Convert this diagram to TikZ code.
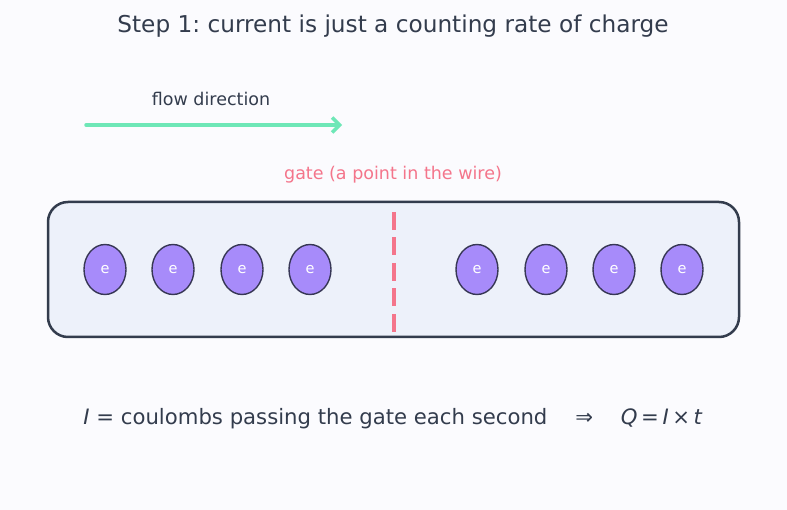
\documentclass[tikz,border=0pt]{standalone}
\usepackage{fontspec}
\setmainfont{DejaVu Sans}
\usetikzlibrary{arrows.meta,shapes.geometric}
\frenchspacing
\definecolor{bg}{RGB}{251,251,254}
\definecolor{ink}{RGB}{51,60,77}
\definecolor{mint}{RGB}{110,231,183}
\definecolor{gatec}{RGB}{244,117,139}
\definecolor{wirefill}{RGB}{237,241,250}
\definecolor{elec}{RGB}{167,139,250}
\definecolor{elecline}{RGB}{55,55,85}
\tikzset{
  txt/.style={text=ink, inner sep=0pt},
  electron/.style={ellipse, draw=elecline, line width=1.4pt, fill=elec, minimum width=42pt, minimum height=50pt, inner sep=0pt, text=white, font=\fontsize{14.5}{17}\selectfont},
}
\begin{document}
\begin{tikzpicture}[x=1pt,y=-1pt]
\fill[bg] (0,0) rectangle (787,510);
\useasboundingbox (0,0) rectangle (787,510);
\node[txt, font=\fontsize{23.2}{27}\selectfont] (title) at (393,26) {Step 1: current is just a counting rate of charge};
\node[txt, font=\fontsize{17.5}{21}\selectfont] (flowlbl) at (211,98.5) {flow direction};
\coordinate (fa) at (86,125);
\coordinate (fb) at (342,125);
\draw[mint, line width=3.5pt, line cap=round, -{Straight Barb[length=7.5pt,width=15pt,line width=3.5pt]}] (fa) -- (fb);
\node[inner sep=0pt, text=gatec, font=\fontsize{17.5}{21}\selectfont] (gatelbl) at (393,175) {gate (a point in the wire)};
\draw[ink, line width=2.5pt, fill=wirefill, rounded corners=20pt] (48,202) rectangle (739,337);
\coordinate (ga) at (394,212);
\coordinate (gb) at (394,333);
\draw[gatec, line width=4.3pt, dash pattern=on 18pt off 7.5pt] (ga) -- (gb);
\foreach \i/\x in {1/105,2/173,3/242,4/310,5/477,6/546,7/614,8/682}{
  \node[electron] (e\i) at (\x,269.5) {\raisebox{-1pt}{e}};
}
\node[txt, font=\fontsize{21.2}{25}\selectfont] (formula) at (393,419) {\textit{I} = coulombs passing the gate each second \quad ⇒ \quad \textit{Q}\,=\,\textit{I}\,×\,\textit{t}};
\end{tikzpicture}
\end{document}
